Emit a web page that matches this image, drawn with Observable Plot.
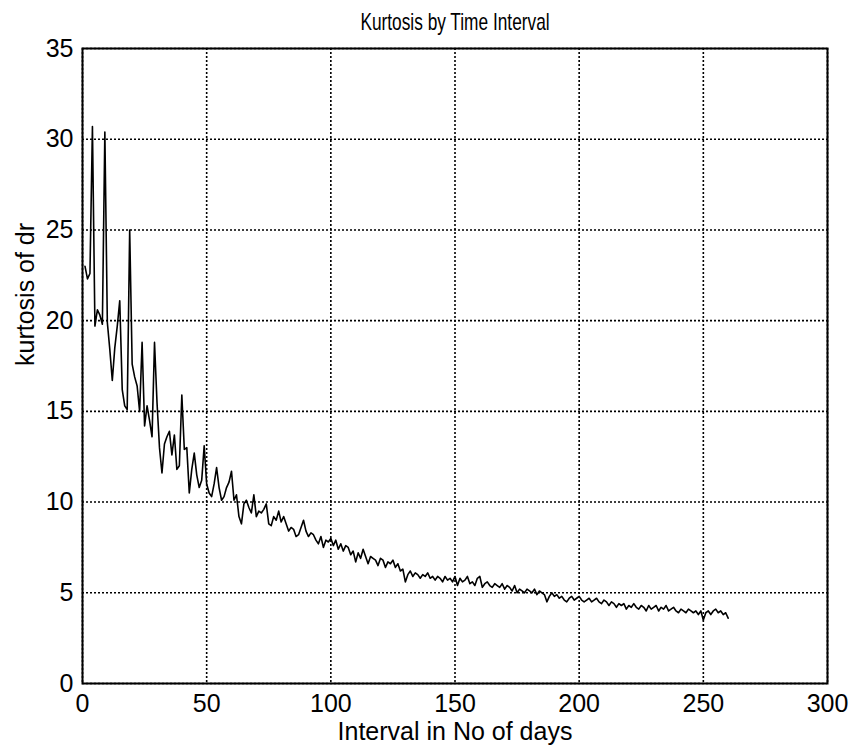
<!DOCTYPE html>
<html>
<head>
<meta charset="utf-8">
<script src="https://cdn.jsdelivr.net/npm/d3@7"></script>
<script src="https://cdn.jsdelivr.net/npm/@observablehq/plot@0.6"></script>
<style>
  html, body { margin: 0; padding: 0; background: #fff; }
  #chart svg { display: block; }
  #titlebar { position: relative; width: 857px; height: 34px; }
  #title {
    position: absolute; left: 455px; top: 22px;
    transform: translate(-50%, -50%) scaleX(0.72);
    white-space: nowrap; color: black;
    font-family: 'Liberation Sans', Arial, sans-serif; font-size: 24px; line-height: 1;
  }
</style>
</head>
<body>
<div id="titlebar"><span id="title"></span></div>
<div id="chart"></div>
<script>
// ---- data ----
const chartTitle = "Kurtosis by Time Interval";
const xLabel = "Interval in No of days";
const yLabel = "kurtosis of dr";
const xTicks = [0, 50, 100, 150, 200, 250, 300];
const yTicks = [0, 5, 10, 15, 20, 25, 30, 35];
const firstDay = 1;
// kurtosis for interval = 1, 2, 3, ... days
const kurtosis = [
  23.0, 22.3, 22.6, 30.7, 19.7, 20.6, 20.3, 19.8, 30.4, 19.9,
  18.4, 16.7, 18.5, 19.7, 21.1, 16.2, 15.3, 15.1, 25.0, 17.6,
  16.9, 16.4, 15.0, 18.8, 14.2, 15.3, 14.5, 13.6, 18.8, 15.5,
  13.0, 11.6, 13.2, 13.6, 13.9, 12.6, 13.7, 11.8, 12.0, 15.9,
  12.9, 13.0, 10.5, 11.8, 12.7, 11.5, 10.8, 11.2, 13.1, 11.0,
  10.5, 10.3, 11.0, 11.9, 10.8, 10.1, 10.3, 10.8, 11.1, 11.7,
  10.1, 10.4, 9.2, 8.8, 9.9, 10.1, 9.7, 9.4, 10.4, 9.2,
  9.5, 9.4, 9.6, 9.9, 8.8, 8.7, 9.2, 9.0, 9.5, 8.9,
  9.2, 8.8, 8.4, 8.6, 8.5, 8.1, 8.2, 8.6, 9.0, 8.4,
  8.1, 8.3, 8.2, 7.9, 7.7, 8.1, 7.5, 7.9, 7.8, 8.0,
  7.6, 7.9, 7.4, 7.7, 7.3, 7.6, 7.5, 7.1, 7.3, 6.7,
  7.2, 6.9, 7.4, 7.0, 6.6, 7.0, 6.9, 6.8, 6.5, 6.9,
  6.8, 6.4, 6.7, 6.6, 6.8, 6.4, 6.6, 6.2, 6.3, 5.6,
  6.0, 6.2, 5.9, 6.1, 6.0, 5.8, 6.0, 5.9, 6.1, 5.8,
  5.9, 5.7, 5.9, 5.8, 5.6, 5.9, 5.7, 5.8, 5.6, 5.9,
  5.4, 5.8, 5.6, 5.7, 5.9, 5.5, 5.6, 5.4, 5.8, 5.9,
  5.3, 5.5, 5.6, 5.4, 5.3, 5.5, 5.4, 5.3, 5.5, 5.2,
  5.4, 5.3, 5.1, 5.4, 5.0, 5.2, 5.1, 5.0, 5.2, 5.1,
  5.0, 5.2, 4.9, 5.1, 5.0, 4.9, 4.5, 4.8, 5.0, 4.8,
  4.9, 4.7, 4.8, 4.6, 4.5, 4.7, 4.8, 4.6, 4.7, 4.8,
  4.6, 4.5, 4.6, 4.7, 4.5, 4.6, 4.7, 4.5, 4.4, 4.6,
  4.5, 4.3, 4.5, 4.4, 4.2, 4.4, 4.3, 4.4, 4.1, 4.3,
  4.2, 4.4, 4.2, 4.1, 4.3, 4.2, 4.0, 4.3, 4.1, 4.2,
  4.3, 4.0, 4.2, 4.1, 4.3, 4.0, 4.1, 4.2, 4.0, 3.9,
  4.1, 4.0, 3.9, 4.1, 4.0, 3.9, 4.0, 3.8, 4.0, 3.5,
  3.9, 4.0, 3.8, 4.0, 4.1, 3.9, 4.0, 3.8, 3.9, 3.6
];

const rows = kurtosis.map((k, i) => ({ day: firstDay + i, k }));

document.getElementById("title").textContent = chartTitle;

const font = "'Liberation Sans', Arial, sans-serif";
const gridStyle = { stroke: "black", strokeOpacity: 1, strokeWidth: 1.6, strokeDasharray: "2,2" };

const chart = Plot.plot({
  width: 857,
  height: 718,
  marginLeft: 82,
  marginRight: 30,
  marginTop: 14,
  marginBottom: 69,
  style: { fontFamily: font, fontSize: "25px", background: "white", color: "black" },
  x: { domain: [0, 300], label: null },
  y: { domain: [0, 35], label: null },
  marks: [
    Plot.gridX(xTicks, gridStyle),
    Plot.gridY(yTicks, gridStyle),
    Plot.frame({ stroke: "black", strokeWidth: 2 }),
    Plot.axisX({ ticks: xTicks, tickSize: 0, tickPadding: 11, fontSize: 25, label: null }),
    Plot.axisY({ ticks: yTicks, tickSize: 0, tickPadding: 9, fontSize: 25, label: null }),
    Plot.lineY(rows, { x: "day", y: "k", stroke: "black", strokeWidth: 1.6 }),
    Plot.text([xLabel], { frameAnchor: "bottom", dy: 56, fontSize: 25 }),
    Plot.text([yLabel], { frameAnchor: "left", dx: -57, rotate: -90, fontSize: 25 })
  ]
});

document.getElementById("chart").appendChild(chart);
</script>
</body>
</html>
